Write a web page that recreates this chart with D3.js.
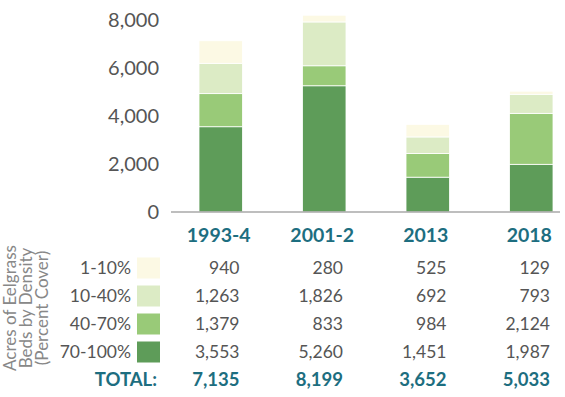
<!DOCTYPE html>
<html>
<head>
<meta charset="utf-8">
<script src="https://cdn.jsdelivr.net/npm/d3@7"></script>
<style>
  body { margin: 0; background: #fff; }
  svg { font-family: "Lato", "Open Sans", sans-serif; }
</style>
</head>
<body>
<div id="chart"></div>
<script>
// survey periods and acres per density class
var years = ["1993-4", "2001-2", "2013", "2018"];
var densityClasses = ["70-100%", "40-70%", "10-40%", "1-10%"];
var acres_70_100 = [3553, 5260, 1451, 1987];
var acres_40_70 = [1379, 833, 984, 2124];
var acres_10_40 = [1263, 1826, 692, 793];
var acres_1_10 = [940, 280, 525, 129];
var totals = [7135, 8199, 3652, 5033];
var yTicks = [0, 2000, 4000, 6000, 8000];

var colors = ["#5e9c59", "#99ca78", "#dcebc5", "#fcf9e4"];
var teal = "#1d6e80";

// build rows for d3.stack
var data = years.map(function(y, i) {
  return {
    year: y,
    "70-100%": acres_70_100[i],
    "40-70%": acres_40_70[i],
    "10-40%": acres_10_40[i],
    "1-10%": acres_1_10[i]
  };
});

var width = 565, height = 397;

var svg = d3.select("#chart").append("svg")
    .attr("width", width)
    .attr("height", height);

var x = d3.scaleBand()
    .domain(years)
    .range([199, 553])
    .paddingInner(0.58)
    .paddingOuter(0);

var y = d3.scaleLinear()
    .domain([0, 8000])
    .range([212, 20]);

var color = d3.scaleOrdinal()
    .domain(densityClasses)
    .range(colors);

var series = d3.stack().keys(densityClasses)(data);

// bars
svg.append("g")
  .selectAll("g")
  .data(series)
  .enter().append("g")
    .attr("fill", function(d) { return color(d.key); })
  .selectAll("rect")
  .data(function(d) { return d; })
  .enter().append("rect")
    .attr("x", function(d) { return x(d.data.year); })
    .attr("width", x.bandwidth())
    .attr("y", function(d) { return y(d[1]); })
    .attr("height", function(d) { return y(d[0]) - y(d[1]); })
    .attr("stroke", "#fff")
    .attr("stroke-width", 0.8);

// y axis labels, no line
var yAxis = svg.append("g")
    .attr("transform", "translate(171,0)")
    .call(d3.axisLeft(y).tickValues(yTicks).tickSize(0).tickPadding(12).tickFormat(d3.format(",")));
yAxis.select(".domain").remove();
yAxis.selectAll("text")
    .attr("font-family", "Lato, sans-serif")
    .attr("font-size", 20)
    .attr("fill", "#555");

// baseline
svg.append("line")
    .attr("x1", 171).attr("x2", 560)
    .attr("y1", y(0)).attr("y2", y(0))
    .attr("stroke", "#a8a8a8")
    .attr("stroke-width", 1.5);

// year labels
svg.append("g")
  .selectAll("text")
  .data(years)
  .enter().append("text")
    .attr("x", function(d) { return x(d) + x.bandwidth() / 2 - 2; })
    .attr("y", 242)
    .attr("text-anchor", "middle")
    .attr("font-size", 19.5)
    .attr("font-weight", "bold")
    .attr("fill", teal)
    .text(function(d) { return d; });

// table rows, top to bottom
var tableRows = [
  { label: "1-10%", values: acres_1_10 },
  { label: "10-40%", values: acres_10_40 },
  { label: "40-70%", values: acres_40_70 },
  { label: "70-100%", values: acres_70_100 }
];
var rowY = d3.scalePoint().domain(d3.range(5)).range([268, 380]);
var fmt = d3.format(",");

var rows = svg.append("g").selectAll("g")
  .data(tableRows)
  .enter().append("g")
    .attr("transform", function(d, i) { return "translate(0," + rowY(i) + ")"; });

rows.append("text")
    .attr("x", 131)
    .attr("dy", "0.35em")
    .attr("text-anchor", "end")
    .attr("font-size", 17.5)
    .attr("fill", "#555")
    .text(function(d) { return d.label; });

rows.append("rect")
    .attr("x", 137)
    .attr("y", -10.5)
    .attr("width", 23)
    .attr("height", 21)
    .attr("fill", function(d) { return color(d.label); });

rows.selectAll(".val")
  .data(function(d) { return d.values; })
  .enter().append("text")
    .attr("class", "val")
    .attr("x", function(d, i) { return x(years[i]) + x.bandwidth() - 3; })
    .attr("dy", "0.35em")
    .attr("text-anchor", "end")
    .attr("font-size", 17.5)
    .attr("fill", "#555")
    .text(function(d) { return fmt(d); });

// totals row
var totalRow = svg.append("g")
    .attr("transform", "translate(0," + rowY(4) + ")");
totalRow.append("text")
    .attr("x", 157)
    .attr("dy", "0.35em")
    .attr("text-anchor", "end")
    .attr("font-size", 18.5)
    .attr("font-weight", "bold")
    .attr("fill", teal)
    .text("TOTAL:");
totalRow.selectAll(".tot")
  .data(totals)
  .enter().append("text")
    .attr("class", "tot")
    .attr("x", function(d, i) { return x(years[i]) + x.bandwidth() - 3; })
    .attr("dy", "0.35em")
    .attr("text-anchor", "end")
    .attr("font-size", 18.5)
    .attr("font-weight", "bold")
    .attr("fill", teal)
    .text(function(d) { return fmt(d); });

// rotated table title
var title = svg.append("text")
    .attr("transform", "translate(10,308) rotate(-90)")
    .attr("text-anchor", "middle")
    .attr("font-size", 17)
    .attr("fill", "#888");
["Acres of Eelgrass", "Beds by Density", "(Percent Cover)"].forEach(function(t, i) {
  title.append("tspan")
      .attr("x", 0)
      .attr("y", i * 16)
      .attr("dy", "0.35em")
      .text(t);
});
</script>
</body>
</html>
